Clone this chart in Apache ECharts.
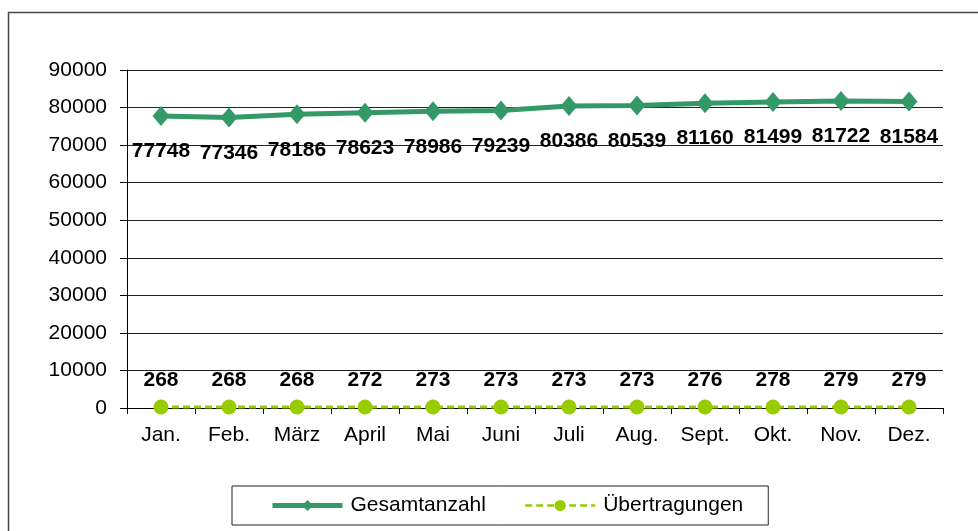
<!DOCTYPE html>
<html>
<head>
<meta charset="utf-8">
<script src="https://cdn.jsdelivr.net/npm/echarts@6/dist/echarts.min.js"></script>
<style>
  html, body { margin: 0; padding: 0; background: #fff; }
  #chart { width: 978px; height: 531px; }
</style>
</head>
<body>
<div id="chart"></div>
<script>
// Monate
const months = ['Jan.', 'Feb.', 'März', 'April', 'Mai', 'Juni', 'Juli', 'Aug.', 'Sept.', 'Okt.', 'Nov.', 'Dez.']
// Gesamtanzahl
const gesamt = [77748, 77346, 78186, 78623, 78986, 79239, 80386, 80539, 81160, 81499, 81722, 81584]
// Übertragungen
const uebertragungen = [268, 268, 268, 272, 273, 273, 273, 273, 276, 278, 279, 279]

const chart = echarts.init(document.getElementById('chart'))

const font = 'Liberation Sans, Arial, sans-serif'

chart.setOption({
  animation: false,
  textStyle: { fontFamily: font },
  // Rahmen um das Diagramm
  graphic: [{
    type: 'rect',
    shape: { x: 8.5, y: 12.5, width: 990, height: 540 },
    style: { fill: 'none', stroke: '#444', lineWidth: 1.5 }
  }],
  grid: { left: 127, right: 35, top: 70, bottom: 123 },
  legend: {
    left: 232,
    top: 486,
    padding: [9, 25, 9, 38],
    borderColor: '#222',
    borderWidth: 1,
    itemWidth: 70,
    itemHeight: 14,
    itemGap: 38,
    textStyle: { fontSize: 21, color: '#000', fontFamily: font, padding: [0, 0, 0, 3] },
    data: [
      { name: 'Gesamtanzahl', lineStyle: { width: 5 } },
      { name: 'Übertragungen', lineStyle: { width: 2.5 } }
    ]
  },
  xAxis: {
    type: 'category',
    data: months,
    axisLine: { lineStyle: { color: '#000', width: 1 } },
    axisTick: { show: true, length: 6, lineStyle: { color: '#000' } },
    axisLabel: { fontSize: 21, color: '#000', margin: 17, fontFamily: font }
  },
  yAxis: {
    type: 'value',
    min: 0,
    max: 90000,
    interval: 10000,
    axisLine: { show: true, lineStyle: { color: '#000', width: 1 } },
    axisTick: { show: true, length: 7, lineStyle: { color: '#000' } },
    axisLabel: {
      fontSize: 21, color: '#000', margin: 20, fontFamily: font,
      formatter: v => String(v)
    },
    splitLine: { lineStyle: { color: '#222', width: 1 } }
  },
  series: [
    {
      name: 'Gesamtanzahl',
      type: 'line',
      data: gesamt,
      symbol: 'diamond',
      symbolSize: [17, 20],
      lineStyle: { color: '#339966', width: 5 },
      itemStyle: { color: '#339966' },
      label: {
        show: true,
        position: 'bottom',
        distance: 15,
        fontSize: 21,
        fontWeight: 'bold',
        color: '#000',
        fontFamily: font
      }
    },
    {
      name: 'Übertragungen',
      type: 'line',
      data: uebertragungen,
      symbol: 'circle',
      symbolSize: 15,
      lineStyle: { color: '#99cc00', width: 3, type: [7, 4] },
      itemStyle: { color: '#99cc00' },
      label: {
        show: true,
        position: 'top',
        distance: 9,
        fontSize: 21,
        fontWeight: 'bold',
        color: '#000',
        fontFamily: font
      }
    }
  ]
})
</script>
</body>
</html>
